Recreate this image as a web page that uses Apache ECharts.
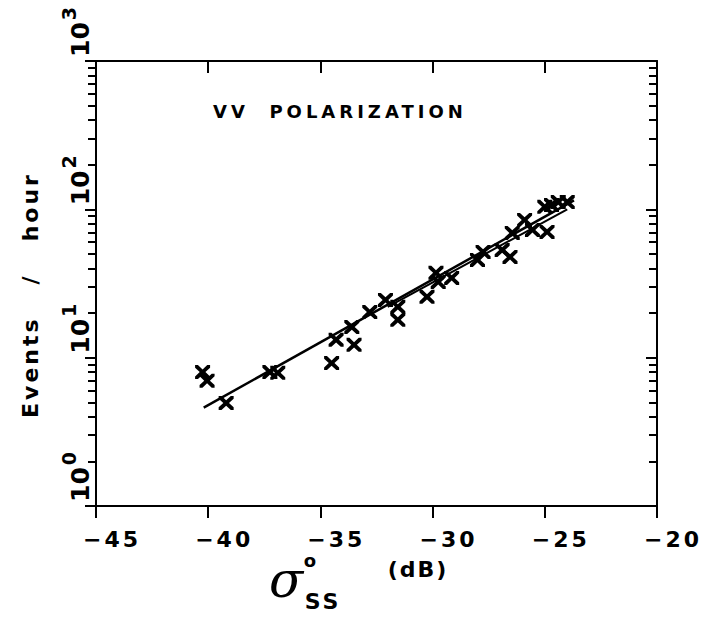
<!DOCTYPE html>
<html><head><meta charset="utf-8">
<script src="https://cdn.jsdelivr.net/npm/echarts@6/dist/echarts.min.js"></script>
<style>html,body{margin:0;padding:0;background:#fff}#c{width:707px;height:617px}</style>
</head><body><div id="c"></div>
<script>
// data
const sigmaDb = [-40.25,-40.05,-39.2,-37.25,-36.9,-34.5,-34.3,-33.5,-33.6,-32.8,-32.1,-31.55,-31.55,-30.25,-29.85,-29.75,-29.15,-28.0,-27.75,-26.9,-26.55,-26.45,-25.9,-25.55,-24.9,-25.0,-24.7,-24.4,-24.0];
const eventsPerHour = [8.0,7.0,4.95,8.0,7.9,9.2,13.2,12.2,16.1,20.3,24.5,22.0,18.0,25.7,37.3,32.4,34.5,45.6,51.6,53.2,47.8,69.3,84.9,72.6,70.4,104,107,112,112];
const fitX = [-40.2, -23.7];
const fitY = [4.6, 115];
const fit2X = [-32.0, -24.0];
const fit2Y = [22.0, 100];
const xTickValues = [-45,-40,-35,-30,-25,-20];
const yMajorTicks = [1,10,100,1000];
const yMinorTicks = [2,3,4,5,6,7,8,9,20,30,40,50,60,70,80,90,200,300,400,500,600,700,800,900];
const titleText = 'VV  POLARIZATION';
const yTitle = 'Events   /   hour';

const FONT = 'DejaVu Sans';
const chart = echarts.init(document.getElementById('c'), null, {renderer:'svg'});
const X_SYMBOL = 'path://M0,0 L3.8,0 L10,6.2 L16.2,0 L20,0 L20,3.8 L13.8,10 L20,16.2 L20,20 L16.2,20 L10,13.8 L3.8,20 L0,20 L0,16.2 L6.2,10 L0,3.8 Z';
const axisLineStyle = {color:'#000', width:2};
const logAxisBase = {type:'log', logBase:10, min:1, max:1000, splitLine:{show:false}};

function yAxis(pos, inside, major) {
  return Object.assign({}, logAxisBase, {
    position: pos,
    axisLine: {show: major, lineStyle: axisLineStyle},
    axisTick: {show:true, inside: inside, length: major ? 11 : 8, lineStyle:{color:'#000', width:2},
               customValues: major ? yMajorTicks : yMinorTicks},
    axisLabel: {show: false}
  });
}

const leftMajor = yAxis('left', false, true);
leftMajor.axisLabel = {
  show: true, rotate: 90, align: 'left', margin: 3, padding:[0,0,0,4],
  customValues: yMajorTicks,
  formatter: v => '{b|10}{s|' + Math.round(Math.log10(v)) + '}',
  rich: {
    b: {fontFamily: FONT, fontWeight:'bold', fontSize: 25, color:'#000', verticalAlign:'bottom', lineHeight: 34},
    s: {fontFamily: FONT, fontWeight:'bold', fontSize: 19, color:'#000', verticalAlign:'top', lineHeight: 34, padding:[0,0,0,2]}
  }
};

chart.setOption({
  animation: false,
  backgroundColor: '#fff',
  grid: {left: 96, right: 50, top: 61, bottom: 111, containLabel: false},
  xAxis: [
    {type:'value', min:-45, max:-20, interval:5, position:'bottom',
     axisLine:{lineStyle: axisLineStyle}, splitLine:{show:false},
     axisTick:{inside:false, length:12, lineStyle:{color:'#000', width:2}},
     axisLabel:{fontFamily: FONT, fontWeight:'bold', fontSize: 22, lineHeight: 22, color:'#000', margin: 22, padding:[0,0,0,32],
                formatter: v => (v < 0 ? '\u2212' : '') + Math.abs(v)}},
    {type:'value', min:-45, max:-20, interval:5, position:'top',
     axisLine:{lineStyle: axisLineStyle}, splitLine:{show:false},
     axisTick:{inside:true, length:12, lineStyle:{color:'#000', width:2}},
     axisLabel:{show:false}}
  ],
  yAxis: [leftMajor, yAxis('left', false, false), yAxis('right', true, true), yAxis('right', true, false)],
  graphic: [
    {type:'text', x: 213, y: 102, style:{text: titleText, fill:'#000', font: 'bold 18px "DejaVu Sans"', textAlign:'left', textVerticalAlign:'top'}},
    {type:'text', x: 30, y: 295, rotation: Math.PI/2, style:{text: yTitle, fill:'#000', font: 'bold 22px "DejaVu Sans"', textAlign:'center', textVerticalAlign:'middle'}},
    {type:'text', x: 286, y: 580, style:{text: '\u03C3', fill:'#000', font: 'italic 50px "DejaVu Serif"', textAlign:'center', textVerticalAlign:'middle'}},
    {type:'text', x: 310, y: 560, style:{text: 'o', fill:'#000', font: 'bold 18px "DejaVu Sans"', textAlign:'center', textVerticalAlign:'middle'}},
    {type:'text', x: 323, y: 601, style:{text: 'SS', fill:'#000', font: 'bold 22px "DejaVu Sans"', textAlign:'center', textVerticalAlign:'middle'}},
    {type:'text', x: 418, y: 569, style:{text: '(dB)', fill:'#000', font: 'bold 22px "DejaVu Sans"', textAlign:'center', textVerticalAlign:'middle'}}
  ],
  series: [
    {type:'scatter', xAxisIndex:0, yAxisIndex:0, data: sigmaDb.map((x,i)=>[x, eventsPerHour[i]]),
     symbol: X_SYMBOL, symbolSize:[15,14], itemStyle:{color:'#000', opacity:1}},
    {type:'line', xAxisIndex:0, yAxisIndex:0, data: fitX.map((x,i)=>[x, fitY[i]]),
     showSymbol:false, symbol:'none', lineStyle:{color:'#000', width:2.5}},
    {type:'line', xAxisIndex:0, yAxisIndex:0, data: fit2X.map((x,i)=>[x, fit2Y[i]]),
     showSymbol:false, symbol:'none', lineStyle:{color:'#000', width:2}}
  ]
});
chart.getZr().flush();
const spacing = {};
spacing[titleText] = '4px';
spacing[yTitle] = '3px';
spacing['SS'] = '3px';
spacing['(dB)'] = '2px';
xTickValues.forEach(v => { spacing[(v < 0 ? '\u2212' : '') + Math.abs(v)] = '3px'; });
document.querySelectorAll('#c text').forEach(t => {
  const s = spacing[t.textContent];
  if (s) t.style.letterSpacing = s;
});
</script></body></html>
